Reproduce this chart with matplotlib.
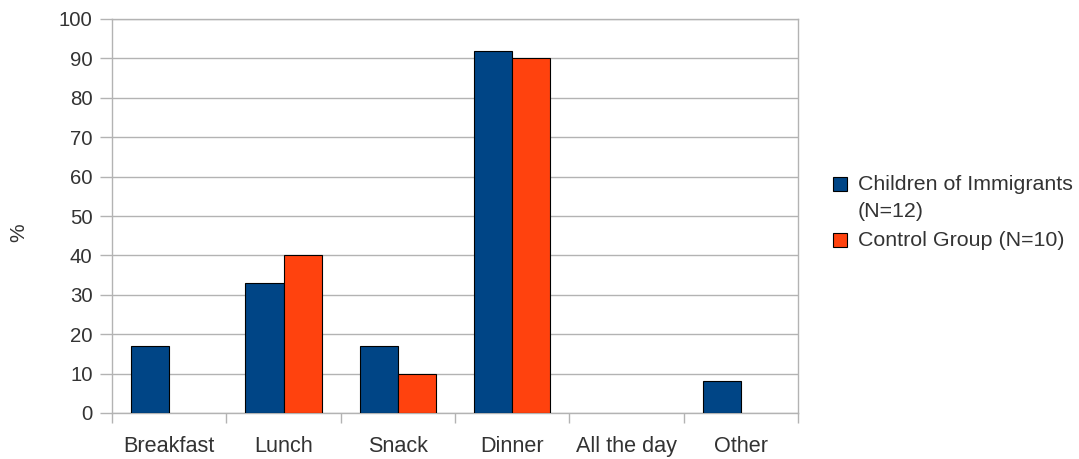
import matplotlib
matplotlib.use("Agg")
import matplotlib.pyplot as plt
from matplotlib.patches import Rectangle
import numpy as np

plt.rcParams['font.family'] = ['Liberation Sans', 'DejaVu Sans']

categories = ["Breakfast", "Lunch", "Snack", "Dinner", "All the day", "Other"]
immigrants = [17, 33, 17, 92, 0, 8]
control = [0, 40, 10, 90, 0, 0]
series_labels = [["Children of Immigrants", "(N=12)"], ["Control Group (N=10)"]]
yticks = list(range(0, 101, 10))

BLUE = "#004586"
ORANGE = "#ff420e"
GRID = "#b3b3b3"
TEXT = "#333333"

W, H = 1079, 459
fig = plt.figure(figsize=(W / 100, H / 100), dpi=100)
ax = fig.add_axes([112 / W, 1 - 413 / H, (798 - 112) / W, (413 - 19) / H])

x = np.arange(len(categories))
w = 1 / 3


def edge_widths(values):
    # no outline on empty bars so the baseline stays clean
    return [0.8 if v > 0 else 0 for v in values]


ax.bar(x - w / 2, immigrants, width=w, color=BLUE, edgecolor="black",
       linewidth=edge_widths(immigrants), zorder=3)
ax.bar(x + w / 2, control, width=w, color=ORANGE, edgecolor="black",
       linewidth=edge_widths(control), zorder=3)

ax.set_xlim(-0.5, len(categories) - 0.5)
ax.set_ylim(0, 100)
ax.set_yticks(yticks)
ax.tick_params(axis="y", length=8.8, width=1, color=GRID, labelsize=14.7, labelcolor=TEXT, pad=5.2)
ax.yaxis.grid(True, color=GRID, linewidth=1, zorder=0)

# category separators as major ticks, names as minor ticks at the centres
ax.set_xticks(np.arange(-0.5, len(categories), 1))
ax.set_xticklabels([])
ax.set_xticks(x, minor=True)
ax.set_xticklabels(categories, minor=True)
ax.tick_params(axis="x", which="major", length=7, width=1, color=GRID)
ax.tick_params(axis="x", which="minor", length=0, labelsize=15.6, labelcolor=TEXT, pad=16.5)

for s in ax.spines.values():
    s.set_color(GRID)
    s.set_linewidth(1)

fig.text(19 / W, 1 - 233 / H, "%", rotation=90, ha="center", va="center",
         fontsize=15, color=TEXT)

# legend: swatch beside the first line of each entry
colors = [BLUE, ORANGE]
entry_tops = [177, 233]
for col, top, lines in zip(colors, entry_tops, series_labels):
    fig.patches.append(Rectangle((833 / W, 1 - (top + 14) / H), 14 / W, 14 / H,
                                 transform=fig.transFigure, facecolor=col,
                                 edgecolor="black", linewidth=0.8))
    for i, line in enumerate(lines):
        fig.text(858 / W, 1 - (top + 7.5 + i * 26.7) / H, line, ha="left", va="center",
                 fontsize=15.4, color=TEXT)

fig.savefig("out.png", dpi=100)
